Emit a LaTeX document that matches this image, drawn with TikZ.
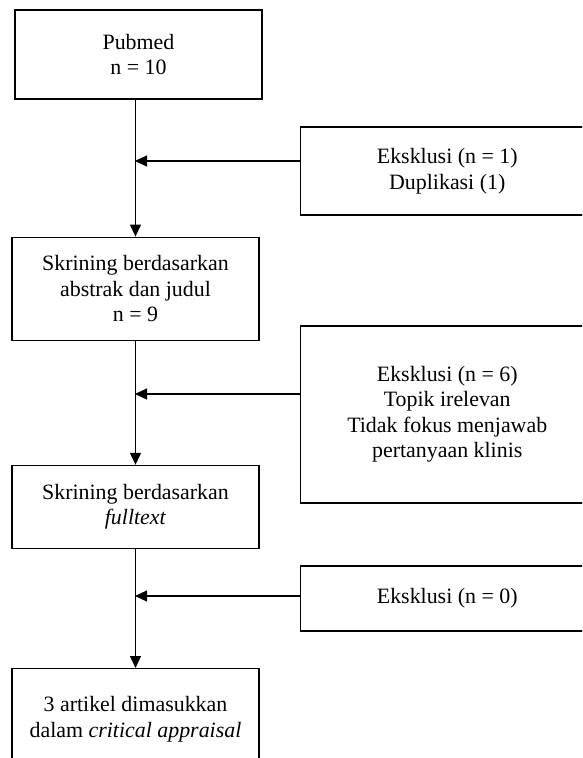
\documentclass[tikz,border=0pt]{standalone}
\usepackage{fontspec}
\setmainfont{Liberation Serif}
\usetikzlibrary{positioning, arrows.meta}
\tikzset{
  font=\fontsize{21.9}{25.5}\selectfont,
  >={Triangle[length=12pt, width=11pt]},
  mainbox/.style={draw, rectangle, line width=1.2pt, minimum width=247pt, inner sep=0pt, align=center},
  exclbox/.style={draw, rectangle, line width=1.2pt, minimum width=293.5pt, inner sep=0pt, align=center},
  link/.style={line width=1.2pt}
}

\begin{document}
\begin{tikzpicture}[x=1pt, y=-1pt]
    \useasboundingbox (0,0) rectangle (582,758);
    \clip (0,0) rectangle (582,758);

    \node[mainbox, minimum height=89pt] (pubmed) at (138.5,54.5) {Pubmed\\n = 10};
    \node[mainbox, minimum height=103pt, below=137pt of pubmed, xshift=-3pt] (skrining1) {Skrining berdasarkan\\abstrak dan judul\\n = 9};
    \node[mainbox, minimum height=83pt, below=124pt of skrining1] (skrining2) {Skrining berdasarkan\\\textit{fulltext}};
    \node[mainbox, minimum height=101pt, below=119pt of skrining2] (artikel) {3 artikel dimasukkan\\dalam \textit{critical appraisal}};

    \node[exclbox, minimum height=88pt] (eksklusi1) at (447.25,171) {Eksklusi (n = 1)\\Duplikasi (1)};
    \node[exclbox, minimum height=177pt] (eksklusi2) at (447.25,414.5) {Eksklusi (n = 6)\\Topik irelevan\\Tidak fokus menjawab\\pertanyaan klinis};
    \node[exclbox, minimum height=65pt] (eksklusi3) at (447.25,598.5) {Eksklusi (n = 0)};

    \coordinate (join1) at (135.5,161);
    \coordinate (join2) at (135.5,394);
    \coordinate (join3) at (135.5,596);

    \draw[link, ->] (skrining1.north |- pubmed.south) -- (skrining1.north);
    \draw[link, ->] (skrining1.south) -- (skrining2.north);
    \draw[link, ->] (skrining2.south) -- (artikel.north);

    \draw[link, ->, shorten >=-0.5pt] (eksklusi1.west |- join1) -- (join1);
    \draw[link, ->, shorten >=-0.5pt] (eksklusi2.west |- join2) -- (join2);
    \draw[link, ->, shorten >=-0.5pt] (eksklusi3.west |- join3) -- (join3);
\end{tikzpicture}
\end{document}
